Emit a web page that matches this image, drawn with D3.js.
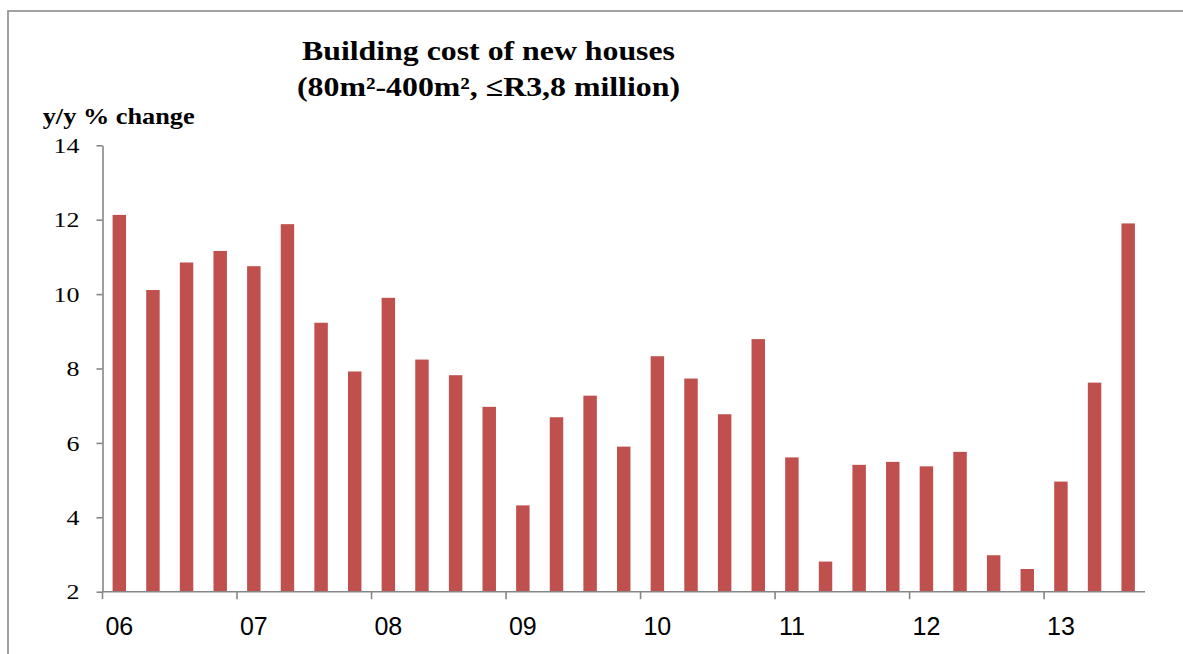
<!DOCTYPE html>
<html>
<head>
<meta charset="utf-8">
<script src="https://cdn.jsdelivr.net/npm/d3@7"></script>
<style>
  html, body { margin: 0; padding: 0; background: #fff; }
  svg { display: block; }
</style>
</head>
<body>
<svg id="chart" width="1183" height="654"></svg>
<script>
// Quarterly y/y % change in building cost of new houses, 2006Q1 – 2013Q3
const quarters = [
  "06Q1","06Q2","06Q3","06Q4","07Q1","07Q2","07Q3","07Q4",
  "08Q1","08Q2","08Q3","08Q4","09Q1","09Q2","09Q3","09Q4",
  "10Q1","10Q2","10Q3","10Q4","11Q1","11Q2","11Q3","11Q4",
  "12Q1","12Q2","12Q3","12Q4","13Q1","13Q2","13Q3"
];
const costChange = [
  12.13, 10.11, 10.85, 11.16, 10.75, 11.88, 9.23, 7.92,
  9.90, 8.24, 7.82, 6.97, 4.32, 6.69, 7.27, 5.90,
  8.33, 7.73, 6.77, 8.79, 5.61, 2.81, 5.41, 5.49,
  5.37, 5.76, 2.98, 2.61, 4.96, 7.62, 11.90
];
const yearLabels = ["06","07","08","09","10","11","12","13"];
const yTicks = [2, 4, 6, 8, 10, 12, 14];

const titleLines = ["Building cost of new houses", "(80m\u00b2-400m\u00b2, \u2264R3,8 million)"];
const yAxisTitle = "y/y % change";

const svg = d3.select("#chart");
const axisColor = "#868686";
const barColor = "#C0504D";

// Outer frame
svg.append("rect")
  .attr("x", 8).attr("y", 11)
  .attr("width", 1300).attr("height", 800)
  .attr("fill", "none")
  .attr("stroke", "#8a8a8a")
  .attr("stroke-width", 1.6);

const plot = { left: 102.5, right: 1145, top: 145.3, bottom: 591.7 };

const x = d3.scaleBand()
  .domain(quarters)
  .range([plot.left, plot.right])
  .paddingInner(0.6)
  .paddingOuter(0.3);

const y = d3.scaleLinear()
  .domain([2, 14])
  .range([plot.bottom, plot.top]);

// Bars
svg.append("g")
  .selectAll("rect")
  .data(costChange)
  .join("rect")
  .attr("x", (d, i) => x(quarters[i]))
  .attr("y", d => y(d))
  .attr("width", x.bandwidth())
  .attr("height", d => y(2) - y(d))
  .attr("fill", barColor);

// Y axis: line and outward ticks
const yAxis = d3.axisLeft(y).tickValues(yTicks).tickSize(6).tickSizeOuter(0).tickFormat("");
const gy = svg.append("g")
  .attr("transform", `translate(${plot.left},0)`)
  .call(yAxis);
gy.selectAll("path, line").attr("stroke", axisColor).attr("stroke-width", 1.6);

// Y tick labels (serif)
svg.append("g")
  .selectAll("text")
  .data(yTicks)
  .join("text")
  .attr("transform", d => `translate(79.5,${y(d)}) scale(1.18,1)`)
  .attr("text-anchor", "end")
  .attr("dy", "0.35em")
  .attr("font-family", "'Liberation Serif', 'Times New Roman', serif")
  .attr("font-size", 22)
  .attr("fill", "#000")
  .text(d => d);

// X axis: line with year-boundary ticks
const step = x.step();
const yearStart = q => x(q) - step * x.paddingOuter();
const q1s = quarters.filter(q => q.endsWith("Q1"));
const gx = svg.append("g").attr("transform", `translate(0,${plot.bottom})`);
gx.append("line")
  .attr("x1", plot.left).attr("x2", plot.right)
  .attr("stroke", axisColor).attr("stroke-width", 1.6);
gx.selectAll("line.tick")
  .data(q1s)
  .join("line")
  .attr("class", "tick")
  .attr("x1", q => yearStart(q)).attr("x2", q => yearStart(q))
  .attr("y1", 0).attr("y2", 7.5)
  .attr("stroke", axisColor).attr("stroke-width", 1.6);

// Year labels, centred under each first-quarter bar
svg.append("g")
  .selectAll("text")
  .data(q1s)
  .join("text")
  .attr("x", q => x(q) + x.bandwidth() / 2)
  .attr("y", 635)
  .attr("text-anchor", "middle")
  .attr("font-family", "'Liberation Sans', Arial, sans-serif")
  .attr("font-size", 25)
  .attr("fill", "#000")
  .text((q, i) => yearLabels[i]);

// Title
const titleWidths = [373, 383];
svg.append("g")
  .selectAll("text")
  .data(titleLines)
  .join("text")
  .attr("transform", (d, i) => `translate(488.5,${59.5 + i * 36.8}) scale(1.16,1)`)
  .attr("text-anchor", "middle")
  .attr("font-family", "'Liberation Serif', 'Times New Roman', serif")
  .attr("font-weight", "bold")
  .attr("font-size", 27)
  .attr("textLength", (d, i) => titleWidths[i] / 1.16)
  .attr("lengthAdjust", "spacingAndGlyphs")
  .attr("fill", "#000")
  .text(d => d);

// Y axis title
svg.append("text")
  .attr("transform", "translate(42.7,123.5) scale(1.1,1)")
  .attr("font-family", "'Liberation Serif', 'Times New Roman', serif")
  .attr("font-weight", "bold")
  .attr("font-size", 24)
  .attr("textLength", 152 / 1.1)
  .attr("lengthAdjust", "spacingAndGlyphs")
  .attr("fill", "#000")
  .text(yAxisTitle);
</script>
</body>
</html>
